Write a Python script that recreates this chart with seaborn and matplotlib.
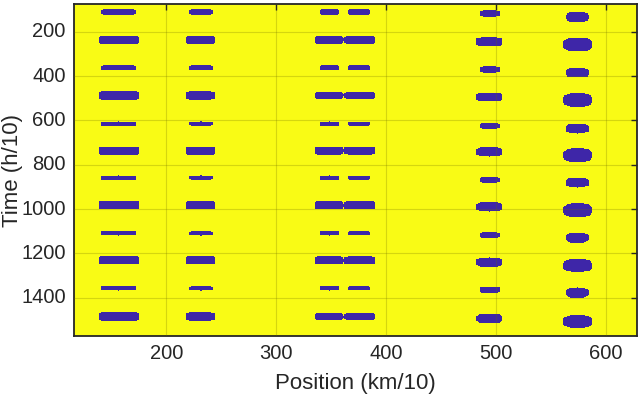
import matplotlib
matplotlib.use("Agg")
import matplotlib.pyplot as plt
import numpy as np
import pandas as pd
import seaborn as sns
from matplotlib.colors import ListedColormap

# time of each pulse row (h/10) and whether it is a "large" row
ROW_TIMES = [110, 236, 362, 486, 615, 735, 859, 983, 1109, 1233, 1357, 1486]
ROW_LARGE = [False, True, False, True, False, True, False, True, False, True, False, True]

# blob columns (km/10): left/right edge on small rows, left/right edge on large rows
COL_NAMES = ["c1", "c2", "c3a", "c3b", "c4", "c5"]
SMALL_LEFT = [141, 221, 340, 365, 485, 563]
SMALL_RIGHT = [172, 242, 357, 385, 503, 584]
LARGE_LEFT = [139, 218, 335, 362, 482, 561]
LARGE_RIGHT = [175, 244, 361, 390, 505, 587]
SMALL_HEIGHT = [22, 22, 22, 22, 30, 46]
LARGE_HEIGHT = [38, 38, 36, 36, 42, 60]
TIME_SHIFT = [0, 0, 0, 0, 8, 22]
ROUNDNESS = [8, 6, 6, 6, 4, 3]

POS_RANGE = (116, 628)
TIME_RANGE = (74, 1571)
X_TICKS = [200, 300, 400, 500, 600]
Y_TICKS = [200, 400, 600, 800, 1000, 1200, 1400]

YELLOW = "#F9FB15"
BLUE = "#3E26A8"


def build_grid() -> pd.DataFrame:
    pos = np.arange(POS_RANGE[0], POS_RANGE[1], 1.0) + 0.5
    time = np.arange(TIME_RANGE[0], TIME_RANGE[1], 4.0) + 2.0
    xx, tt = np.meshgrid(pos, time)
    grid = np.zeros_like(xx)
    for t, large in zip(ROW_TIMES, ROW_LARGE):
        for i in range(len(COL_NAMES)):
            left = LARGE_LEFT[i] if large else SMALL_LEFT[i]
            right = LARGE_RIGHT[i] if large else SMALL_RIGHT[i]
            height = LARGE_HEIGHT[i] if large else SMALL_HEIGHT[i]
            cx, hw = (left + right) / 2, (right - left) / 2
            ct, hh = t + TIME_SHIFT[i], height / 2
            p = ROUNDNESS[i]
            inside = np.abs((xx - cx) / hw) ** p + np.abs((tt - ct) / hh) ** p <= 1
            grid[inside] = 1
        if large:
            # thin bridge between the two halves of the third column
            bridge = (np.abs(xx - 361.5) <= 2.5) & (np.abs(tt - t) <= 5)
            grid[bridge] = 1
    return pd.DataFrame(grid, index=time, columns=pos)


def main() -> None:
    sns.set_theme(style="white")
    plt.rcParams["font.family"] = ["Liberation Sans", "DejaVu Sans"]

    grid = build_grid()
    fig = plt.figure(figsize=(6.4, 3.95), dpi=100)
    ax = fig.add_axes([0.1156, 0.149, 0.8797, 0.841])

    sns.heatmap(grid, cmap=ListedColormap([YELLOW, BLUE]), vmin=0, vmax=1,
                cbar=False, ax=ax, rasterized=True)

    x0, y0 = POS_RANGE[0], TIME_RANGE[0]
    ax.set_xticks([(v - x0) / 1.0 for v in X_TICKS])
    ax.set_xticklabels([str(v) for v in X_TICKS], rotation=0)
    ax.set_yticks([(v - y0) / 4.0 for v in Y_TICKS])
    ax.set_yticklabels([str(v) for v in Y_TICKS], rotation=0)

    for spine in ax.spines.values():
        spine.set_visible(True)
        spine.set_color("#262626")
        spine.set_linewidth(1.3)

    ax.set_axisbelow(False)
    ax.grid(True, color="#6b6b00", alpha=0.25, linewidth=0.8)
    ax.tick_params(direction="in", length=4, width=1, color="#262626",
                   top=True, right=True, labelsize=14.5, labelcolor="#262626", pad=6)

    ax.set_xlabel("Position (km/10)", fontsize=16, color="#262626", labelpad=7)
    ax.set_ylabel("Time (h/10)", fontsize=16, color="#262626")
    ax.yaxis.set_label_coords(-0.09, 0.5)

    fig.savefig("out.png", dpi=100)
    plt.close(fig)


if __name__ == "__main__":
    main()
